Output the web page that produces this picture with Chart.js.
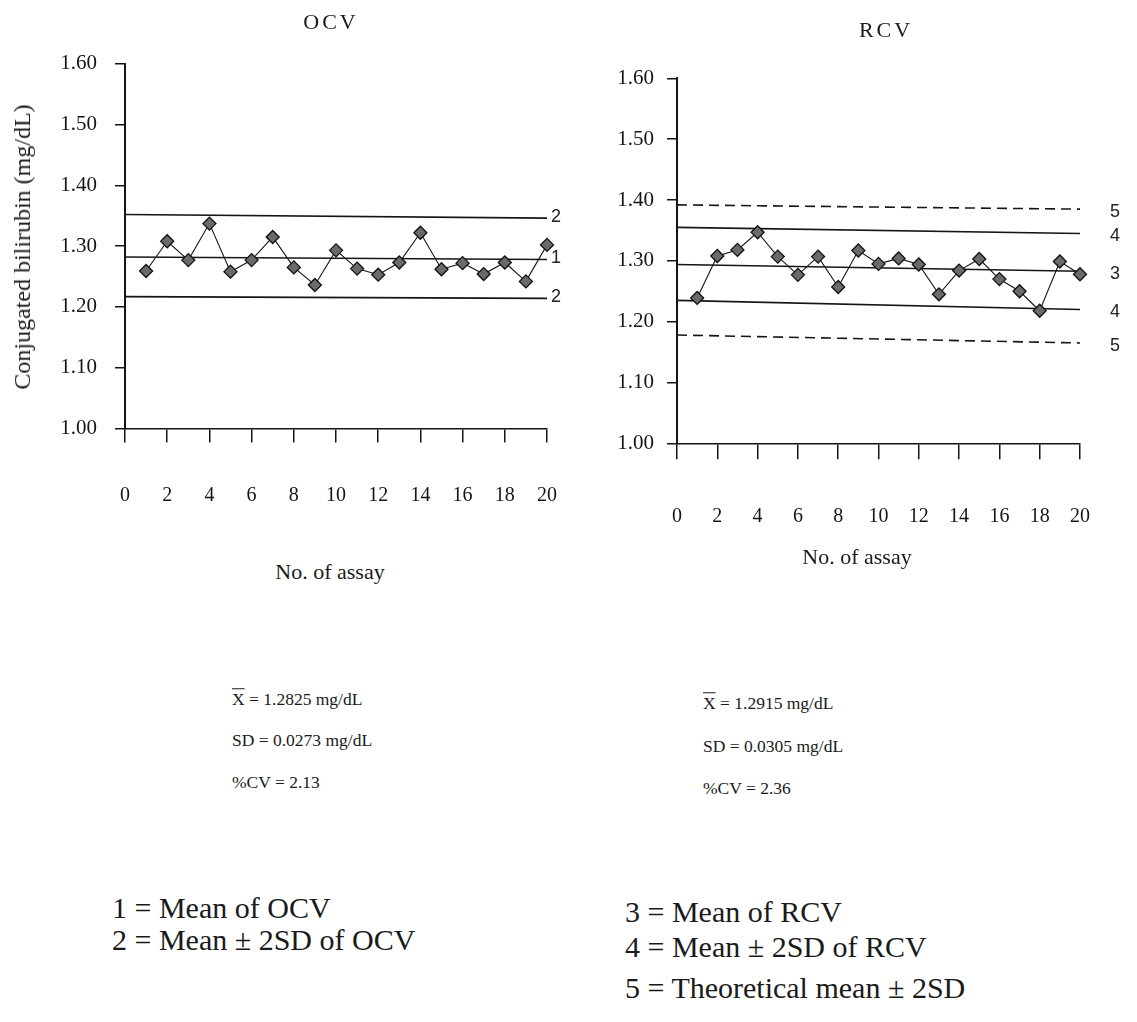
<!DOCTYPE html>
<html><head><meta charset="utf-8">
<script src="https://cdn.jsdelivr.net/npm/chart.js@4.4.1/dist/chart.umd.min.js"></script>
<style>
html,body{margin:0;padding:0;background:#fff;}
#page{position:relative;width:1137px;height:1022px;overflow:hidden;font-family:"Liberation Serif","Times New Roman",serif;color:#1a1a1a;}
canvas{position:absolute;}
.t{position:absolute;white-space:nowrap;line-height:1;}
.c{transform:translate(-50%,-50%);}
.l{transform:translateY(-50%);}
.ov{text-decoration:overline;}
</style></head><body><div id="page">
<canvas id="ocv" width="575" height="530" style="left:0;top:0"></canvas>
<canvas id="rcv" width="577" height="545" style="left:560px;top:0"></canvas>

<div class="t c" style="left:331px;top:22px;font-size:22px;letter-spacing:3px">OCV</div>
<div class="t c" style="left:886px;top:30px;font-size:22px;letter-spacing:3px">RCV</div>
<div class="t" style="left:22px;top:247px;font-size:24px;transform:translate(-50%,-50%) rotate(-90deg)">Conjugated bilirubin (mg/dL)</div>
<div class="t c" style="left:330px;top:572px;font-size:22px">No. of assay</div>
<div class="t c" style="left:857px;top:557px;font-size:22px">No. of assay</div>

<div class="t l" style="left:232px;top:700px;font-size:17.5px"><span class="ov">X</span> = 1.2825 mg/dL</div>
<div class="t l" style="left:232px;top:741px;font-size:17.5px">SD = 0.0273 mg/dL</div>
<div class="t l" style="left:232px;top:783px;font-size:17.5px">%CV = 2.13</div>
<div class="t l" style="left:703px;top:704px;font-size:17.5px"><span class="ov">X</span> = 1.2915 mg/dL</div>
<div class="t l" style="left:703px;top:747px;font-size:17.5px">SD = 0.0305 mg/dL</div>
<div class="t l" style="left:703px;top:789px;font-size:17.5px">%CV = 2.36</div>

<div class="t l" style="left:112px;top:908px;font-size:30px">1 = Mean of OCV</div>
<div class="t l" style="left:112px;top:940px;font-size:30px">2 = Mean ± 2SD of OCV</div>
<div class="t l" style="left:625px;top:912px;font-size:30px">3 = Mean of RCV</div>
<div class="t l" style="left:625px;top:947px;font-size:30px">4 = Mean ± 2SD of RCV</div>
<div class="t l" style="left:625px;top:988px;font-size:30px">5 = Theoretical mean ± 2SD</div>
</div>
<script>
// ---- data ----
const assayNo = [1,2,3,4,5,6,7,8,9,10,11,12,13,14,15,16,17,18,19,20];
const ocvValues = [1.259,1.308,1.277,1.337,1.258,1.277,1.315,1.265,1.236,1.293,1.263,1.253,1.273,1.322,1.262,1.272,1.254,1.273,1.242,1.302];
const rcvValues = [1.239,1.308,1.318,1.347,1.307,1.277,1.307,1.257,1.317,1.295,1.304,1.294,1.245,1.284,1.303,1.270,1.250,1.218,1.299,1.278];
const lineEnds = [0, 20];
const ocvMean = [1.282, 1.278];
const ocvUpper2SD = [1.352, 1.346];
const ocvLower2SD = [1.217, 1.214];
const rcvMean = [1.294, 1.283];
const rcvUpper2SD = [1.355, 1.345];
const rcvLower2SD = [1.235, 1.220];
const theoUpper2SD = [1.392, 1.385];
const theoLower2SD = [1.178, 1.165];
const xTicks = [0,2,4,6,8,10,12,14,16,18,20];
const yTicks = [1.00,1.10,1.20,1.30,1.40,1.50,1.60];
const yTickLabels = ['1.00','1.10','1.20','1.30','1.40','1.50','1.60'];

const INK = '#151515';

const endLabels = {
  id: 'endLabels',
  afterDatasetsDraw(chart, args, opts) {
    const {ctx, chartArea, scales} = chart;
    ctx.save();
    ctx.font = opts.font;
    ctx.fillStyle = opts.color;
    ctx.textAlign = 'center';
    ctx.textBaseline = 'middle';
    chart.data.datasets.forEach(ds => {
      if (!ds.endLabel) return;
      const last = ds.data[ds.data.length - 1].y;
      ctx.fillText(ds.endLabel, chartArea.right + opts.dx, scales.y.getPixelForValue(last) + opts.dy);
    });
    ctx.restore();
  }
};

function limitLine(vals, label, dashed) {
  return {
    type: 'line',
    data: lineEnds.map((x, i) => ({x, y: vals[i]})),
    borderColor: INK, borderWidth: 1.6,
    borderDash: dashed ? [10, 6] : [],
    pointRadius: 0, fill: false, endLabel: label, order: 2
  };
}
function series(vals) {
  return {
    type: 'line',
    data: assayNo.map((x, i) => ({x, y: vals[i]})),
    borderColor: INK, borderWidth: 1.1,
    pointStyle: 'rectRot', pointRadius: 6.5,
    pointBackgroundColor: '#6a6a6a', pointBorderColor: '#111', pointBorderWidth: 1.3,
    fill: false, clip: false, order: 1
  };
}

function makeChart(id, datasets, g) {
  return new Chart(document.getElementById(id), {
    type: 'line',
    data: {datasets},
    options: {
      responsive: false, animation: false, devicePixelRatio: 1,
      layout: {padding: {left: 0, top: g.top, right: g.right, bottom: 0}},
      plugins: {legend: {display: false}, tooltip: {enabled: false},
        endLabels: {font: '18px "Liberation Sans", Arial, sans-serif', color: '#222', dx: g.labDx, dy: g.labDy}},
      scales: {
        x: {
          type: 'linear', min: 0, max: 20,
          afterBuildTicks: s => { s.ticks = xTicks.map(v => ({value: v})); },
          afterFit: s => { s.height = g.xH; s.paddingLeft = 12; s.paddingRight = 12; },
          ticks: {color: INK, font: {family: '"Liberation Serif", serif', size: 20}, padding: g.xPad, maxRotation: 0, autoSkip: false},
          grid: {drawOnChartArea: false, drawTicks: true, tickLength: g.xTick, color: INK, lineWidth: 1.5},
          border: {display: true, color: INK, width: 1.5}
        },
        y: {
          min: 1.0, max: 1.6,
          afterBuildTicks: s => { s.ticks = yTicks.map(v => ({value: v})); },
          afterFit: s => { s.width = g.yW; },
          ticks: {color: INK, font: {family: '"Liberation Serif", serif', size: 21}, padding: g.yPad,
            callback: (v) => yTickLabels[yTicks.findIndex(t => Math.abs(t - v) < 1e-6)]},
          grid: {drawOnChartArea: false, drawTicks: true, tickLength: 10, color: INK, lineWidth: 1.5},
          border: {display: true, color: INK, width: 2}
        }
      }
    },
    plugins: [endLabels]
  });
}

makeChart('ocv', [
  series(ocvValues),
  limitLine(ocvUpper2SD, '2'),
  limitLine(ocvMean, '1'),
  limitLine(ocvLower2SD, '2')
], {top: 63.6, right: 28, xH: 101.4, yW: 125, xPad: 41, xTick: 14, yPad: 18, labDx: 9, labDy: -1});

makeChart('rcv', [
  series(rcvValues),
  limitLine(theoUpper2SD, '5', true),
  limitLine(rcvUpper2SD, '4'),
  limitLine(rcvMean, '3'),
  limitLine(rcvLower2SD, '4'),
  limitLine(theoLower2SD, '5', true)
], {top: 78.4, right: 57, xH: 101.7, yW: 117, xPad: 45, xTick: 16, yPad: 13, labDx: 35, labDy: 3});
</script>
</body></html>
